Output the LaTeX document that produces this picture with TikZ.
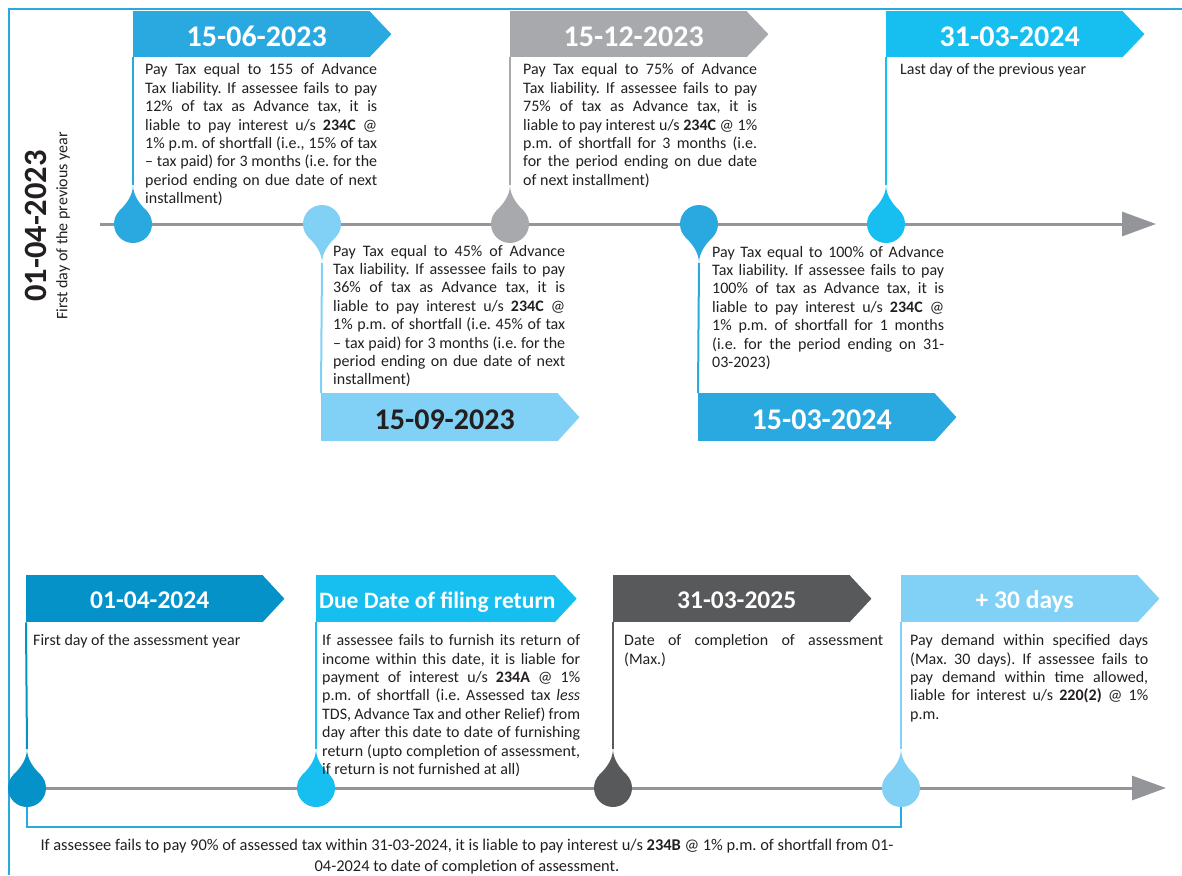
\documentclass[tikz,border=0pt]{standalone}
\usepackage{fontspec}
\setmainfont{Carlito}
\usetikzlibrary{arrows.meta}

\definecolor{txt}{HTML}{231F20}
\definecolor{cblue}{HTML}{29A9E0}
\definecolor{clight}{HTML}{80D1F5}
\definecolor{cgray}{HTML}{A7A9AC}
\definecolor{ccyan}{HTML}{17BFF0}
\definecolor{cdeep}{HTML}{0592C9}
\definecolor{cdark}{HTML}{58595B}
\definecolor{cline}{HTML}{939598}

% one justified line of a text block
\newcommand\jl[1]{\makebox[\hsize][s]{#1}}
% one centred line of a text block
\newcommand\cl[1]{\makebox[\hsize][c]{#1}}

% teardrop markers: colour, x, centre y
\newcommand\dropup[3]{%
  \fill[#1] (#2,#3) circle[radius=19pt];
  \fill[#1] (#2,#3-39) .. controls (#2,#3-28) and (#2+7.7,#3-19.1) .. (#2+13.4,#3-13.4)
    -- (#2,#3) -- (#2-13.4,#3-13.4) .. controls (#2-7.7,#3-19.1) and (#2,#3-28) .. cycle;}
\newcommand\dropdown[3]{%
  \fill[#1] (#2,#3) circle[radius=19pt];
  \fill[#1] (#2,#3+39) .. controls (#2,#3+28) and (#2+7.7,#3+19.1) .. (#2+13.4,#3+13.4)
    -- (#2,#3) -- (#2-13.4,#3+13.4) .. controls (#2-7.7,#3+19.1) and (#2,#3+28) .. cycle;}
% pointed end of a date banner: colour, node name
\newcommand\bannertip[2]{%
  \fill[#1] ([xshift=-1pt]#2.north east) -- ([xshift=21pt]#2.east) -- ([xshift=-1pt]#2.south east) -- cycle;}

\tikzset{
  banner/.style={anchor=north west, minimum width=237pt, minimum height=46pt,
    inner sep=0pt, text=white, text height=24pt, text depth=0pt,
    font=\fontsize{30}{30}\selectfont\bfseries},
  lowbanner/.style={banner, minimum height=47pt, text height=19.5pt, text depth=0pt,
    font=\fontsize{25.5}{26}\selectfont\bfseries},
  body/.style={anchor=north west, inner sep=0pt, text width=#1, align=justify,
    text=txt, font=\fontsize{16}{18.4}\selectfont\frenchspacing},
  conn/.style={line width=2pt},
  timeline/.style={draw=cline, line width=3pt, -{Triangle[length=34pt,width=24pt]}},
  bracket/.style={draw=cblue, line width=1.5pt},
}

\begin{document}
\begin{tikzpicture}[x=1pt, y=-1pt]
\useasboundingbox (0,0) rectangle (1182,875);

% frame
\draw[cblue, line width=2pt] (9,875) -- (9,9) -- (1182,9);

% side label
\node[rotate=90, text=txt, font=\fontsize{32.5}{33}\selectfont\bfseries] (start) at (36,226) {01-04-2023};
\node[rotate=90, text=txt, font=\fontsize{16}{18}\selectfont] (startnote) at (63,226) {First day of the previous year};

% ---------- previous year ----------
\coordinate (t1s) at (100,224);
\coordinate (t1e) at (1156,224);
\draw[timeline] (t1s) -- (t1e);

\node[banner, fill=cblue] (b1) at (133,11) {\hspace*{10pt}15-06-2023};
\bannertip{cblue}{b1}
\node[banner, fill=cgray] (b3) at (510,11) {\hspace*{10pt}15-12-2023};
\bannertip{cgray}{b3}
\node[banner, fill=ccyan] (b5) at (886,11) {\hspace*{10pt}31-03-2024};
\bannertip{ccyan}{b5}
\node[banner, fill=clight, text=txt, minimum height=48pt] (b2) at (321,393) {\hspace*{10pt}15-09-2023};
\bannertip{clight}{b2}
\node[banner, fill=cblue, minimum height=48pt] (b4) at (698,393) {\hspace*{10pt}15-03-2024};
\bannertip{cblue}{b4}

\coordinate (d1) at (133,185);
\coordinate (d2) at (322,263);
\coordinate (d3) at (510,185);
\coordinate (d4) at (699,263);
\coordinate (d5) at (886,185);
\draw[cblue, conn] (b1.south west) -- (d1);
\draw[clight, conn] (d2) -- (b2.north west);
\draw[cgray, conn] (b3.south west) -- (d3);
\draw[cblue, conn] (d4) -- (b4.north west);
\draw[ccyan, conn] (b5.south west) -- (d5);

\dropup{cblue}{133}{224}
\dropdown{clight}{322}{224}
\dropup{cgray}{510}{224}
\dropdown{cblue}{699}{224}
\dropup{ccyan}{886}{224}

\node[body=232pt] (x1) at (145,61.8) {%
\jl{\strut Pay Tax equal to 155 of Advance}\\
\jl{Tax liability. If assessee fails to pay}\\
\jl{12\% of tax as Advance tax, it is}\\
\jl{liable to pay interest u/s \textbf{234C} @}\\
\jl{1\% p.m. of shortfall (i.e., 15\% of tax}\\
\jl{– tax paid) for 3 months (i.e. for the}\\
\jl{period ending on due date of next}\\
installment)};

\node[body=234pt] (x3) at (523,61.8) {%
\jl{\strut Pay Tax equal to 75\% of Advance}\\
\jl{Tax liability. If assessee fails to pay}\\
\jl{75\% of tax as Advance tax, it is}\\
\jl{liable to pay interest u/s \textbf{234C} @ 1\%}\\
\jl{p.m. of shortfall for 3 months (i.e.}\\
\jl{for the period ending on due date}\\
of next installment)};

\node[body=240pt] (x5) at (900,61.8) {\strut Last day of the previous year};

\node[body=232pt] (x2) at (333,243.1) {%
\jl{\strut Pay Tax equal to 45\% of Advance}\\
\jl{Tax liability. If assessee fails to pay}\\
\jl{36\% of tax as Advance tax, it is}\\
\jl{liable to pay interest u/s \textbf{234C} @}\\
\jl{1\% p.m. of shortfall (i.e. 45\% of tax}\\
\jl{– tax paid) for 3 months (i.e. for the}\\
\jl{period ending on due date of next}\\
installment)};

\node[body=232pt] (x4) at (712,244.1) {%
\jl{\strut Pay Tax equal to 100\% of Advance}\\
\jl{Tax liability. If assessee fails to pay}\\
\jl{100\% of tax as Advance tax, it is}\\
\jl{liable to pay interest u/s \textbf{234C} @}\\
\jl{1\% p.m. of shortfall for 1 months}\\
\jl{(i.e. for the period ending on 31-}\\
03-2023)};

% ---------- assessment year ----------
\coordinate (t2s) at (27,788);
\coordinate (t2e) at (1166,788);
\draw[timeline] (t2s) -- (t2e);

\node[lowbanner, fill=cdeep] (c1) at (26,575) {\hspace*{10pt}01-04-2024};
\bannertip{cdeep}{c1}
\node[lowbanner, fill=ccyan, font=\fontsize{23.5}{24}\selectfont\bfseries] (c2) at (316,575) {\hspace*{3pt}Due Date of filing return};
\bannertip{ccyan}{c2}
\node[lowbanner, fill=cdark] (c3) at (613,575) {\hspace*{10pt}31-03-2025};
\bannertip{cdark}{c3}
\node[lowbanner, fill=clight] (c4) at (901,575) {\hspace*{10pt}+ 30 days};
\bannertip{clight}{c4}

\coordinate (e1) at (27,749);
\coordinate (e2) at (316,749);
\coordinate (e3) at (613,749);
\coordinate (e4) at (901,749);
\draw[cdeep, conn] (c1.south west) -- (e1);
\draw[ccyan, conn] (c2.south west) -- (e2);
\draw[cdark, conn] (c3.south west) -- (e3);
\draw[clight, conn] (c4.south west) -- (e4);

% span of interest u/s 234B
\coordinate (f1) at (27,800);
\coordinate (f4) at (901,800);
\draw[bracket] (f1) -- (27,827) -- (901,827) -- (f4);

\dropup{cdeep}{27}{788}
\dropup{ccyan}{316}{788}
\dropup{cdark}{613}{788}
\dropup{clight}{901}{788}

\node[body=240pt] (y1) at (33,632.6) {\strut First day of the assessment year};

\node[body=258pt] (y2) at (322,632.6) {%
\jl{\strut If assessee fails to furnish its return of}\\
\jl{income within this date, it is liable for}\\
\jl{payment of interest u/s \textbf{234A} @ 1\%}\\
\jl{p.m. of shortfall (i.e. Assessed tax \textit{less}}\\
\jl{TDS, Advance Tax and other Relief) from}\\
\jl{day after this date to date of furnishing}\\
\jl{return (upto completion of assessment,}\\
if return is not furnished at all)};

\node[body=259pt] (y3) at (624,632.6) {%
\jl{\strut Date of completion of assessment}\\
(Max.)};

\node[body=238pt] (y4) at (910,632.6) {%
\jl{\strut Pay demand within specified days}\\
\jl{(Max. 30 days). If assessee fails to}\\
\jl{pay demand within time allowed,}\\
\jl{liable for interest u/s \textbf{220(2)} @ 1\%}\\
p.m.};

\node[body=900pt, anchor=north, font=\fontsize{16.4}{21}\selectfont\frenchspacing] (note) at (467,835.3) {%
\cl{\strut If assessee fails to pay 90\% of assessed tax within 31-03-2024, it is liable to pay interest u/s \textbf{234B} @ 1\% p.m. of shortfall from 01-}\\
\cl{04-2024 to date of completion of assessment.}};
\end{tikzpicture}
\end{document}
